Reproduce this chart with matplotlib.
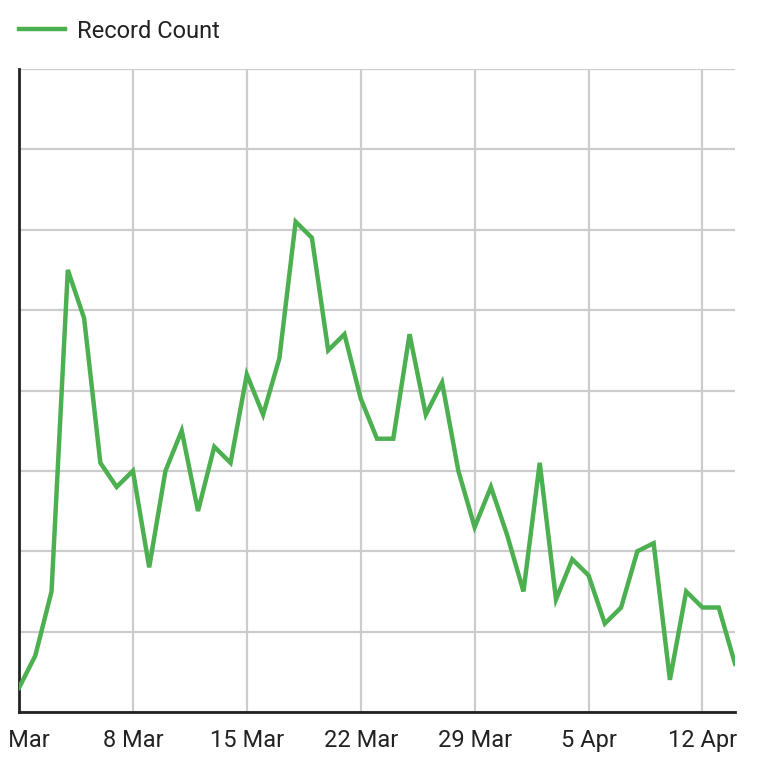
import matplotlib
matplotlib.use('Agg')
import matplotlib.pyplot as plt
import matplotlib.dates as mdates
import numpy as np

plt.rcParams['font.family'] = ['Roboto', 'DejaVu Sans']

start = np.datetime64('2020-03-01')
record_count = [3, 7, 15, 55, 49, 31, 28, 30, 18, 30, 35, 25, 33, 31, 42,
                37, 44, 61, 59, 45, 47, 39, 34, 34, 47, 37, 41, 30, 23, 28,
                22, 15, 31, 14, 19, 17, 11, 13, 20, 21, 4, 15, 13, 13, 6]
days = start + np.arange(len(record_count))
tick_days = start + np.arange(0, 45, 7)

fig = plt.figure(figsize=(7.58, 7.64), dpi=100)
ax = fig.add_axes([19 / 758, 52 / 764, 716 / 758, 643 / 764])

line, = ax.plot(days, record_count, color='#4caf50', lw=3.2, label='Record Count',
                solid_joinstyle='miter', zorder=3)

ax.set_xlim(days[0], days[-1])
ax.set_ylim(0, 80)
ax.set_yticks(range(0, 81, 10))
ax.set_xticks(tick_days)
ax.xaxis.set_major_formatter(mdates.DateFormatter('%-d %b'))
ax.tick_params(axis='y', left=False, labelleft=False)
ax.tick_params(axis='x', length=0, pad=12, labelsize=17, labelcolor='#222222')
ax.grid(True, color='#cccccc', lw=1.6)
ax.set_axisbelow(True)
for s in ['top', 'right']:
    ax.spines[s].set_visible(False)
for s in ['left', 'bottom']:
    ax.spines[s].set_color('#222222')
    ax.spines[s].set_linewidth(2)

fig.legend(handles=[line], loc='center left', bbox_to_anchor=(19 / 758, 1 - 31 / 764),
           frameon=False, fontsize=17, handlelength=1.95, handletextpad=0.5,
           borderpad=0, borderaxespad=0, labelcolor='#222222')

fig.savefig('out.png', dpi=100)
